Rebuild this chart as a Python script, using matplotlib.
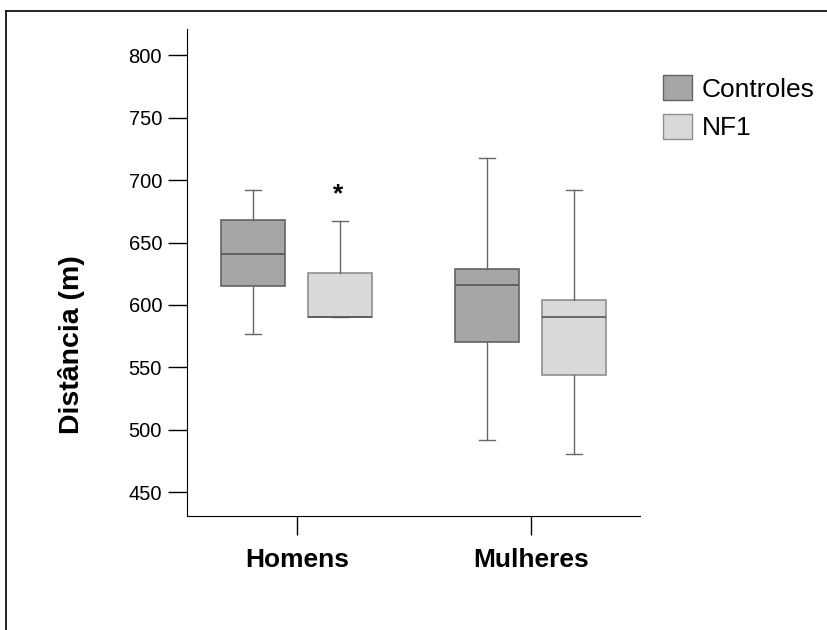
import matplotlib
matplotlib.use("Agg")
import matplotlib.pyplot as plt
from matplotlib.lines import Line2D
from matplotlib.patches import Patch

plt.rcParams["font.family"] = ["Liberation Sans", "DejaVu Sans"]

GROUPS = ["Homens", "Mulheres"]
SERIES = ["Controles", "NF1"]
COLORS = {"Controles": "#a6a6a6", "NF1": "#d9d9d9"}
EDGES = {"Controles": "#636363", "NF1": "#8f8f8f"}

# whisker low, q1, median, q3, whisker high
CONTROLES = [
    (577, 615, 641, 668, 692),
    (492, 570, 616, 629, 718),
]
NF1 = [
    (590, 590, 590, 626, 667),
    (481, 544, 590, 604, 692),
]
VALUES = {"Controles": CONTROLES, "NF1": NF1}

OFFSETS = {"Controles": -0.188, "NF1": 0.184}
BOX_W = 0.27

fig = plt.figure(figsize=(8.27, 6.3), dpi=100)
ax = fig.add_axes([187 / 827, 1 - 516 / 630, (640 - 187) / 827, (516 - 29) / 630])

for name in SERIES:
    stats = []
    for lo, q1, med, q3, hi in VALUES[name]:
        stats.append(dict(whislo=lo, q1=q1, med=med, q3=q3, whishi=hi, fliers=[]))
    pos = [i + OFFSETS[name] for i in range(len(GROUPS))]
    edge = EDGES[name]
    ax.bxp(stats, positions=pos, widths=BOX_W, patch_artist=True,
           showfliers=False, capwidths=0.068,
           boxprops=dict(facecolor=COLORS[name], edgecolor=edge, linewidth=1.2),
           medianprops=dict(color="#555555", linewidth=1.2),
           whiskerprops=dict(color="#666666", linewidth=1.0),
           capprops=dict(color="#666666", linewidth=1.0),
           manage_ticks=False)

ax.text(OFFSETS["NF1"] - 0.01, 689, "*", ha="center", va="center",
        fontsize=19, fontweight="bold")

ax.set_xlim(-0.47, 1.466)
ax.set_ylim(431, 821)
ax.set_yticks(range(450, 801, 50))
ax.set_xticks(range(len(GROUPS)))
ax.set_xticklabels(GROUPS, fontsize=19, fontweight="bold")
ax.tick_params(axis="y", labelsize=14.5, length=14, width=1, pad=4)
ax.tick_params(axis="x", length=14, width=1, pad=9)
ax.spines["top"].set_visible(False)
ax.spines["right"].set_visible(False)
ax.set_ylabel("Distância (m)", fontsize=20.5, fontweight="bold")
ax.yaxis.set_label_coords(-0.225, 0.351)

handles = [Patch(facecolor=COLORS[s], edgecolor=EDGES[s], label=s) for s in SERIES]
fig.legend(handles=handles, loc="upper left", bbox_to_anchor=(663 / 827, 1 - 75 / 630),
           frameon=False, fontsize=19, handlelength=1.1, handleheight=1.1,
           handletextpad=0.38, labelspacing=0.45, borderpad=0, borderaxespad=0)

# outer frame (top and left edges)
fig.add_artist(Line2D([6 / 827, 1.0], [1 - 11 / 630, 1 - 11 / 630], color="black", lw=1.2))
fig.add_artist(Line2D([6 / 827, 6 / 827], [0, 1 - 11 / 630], color="black", lw=1.2))

fig.savefig("out.png", dpi=100)
